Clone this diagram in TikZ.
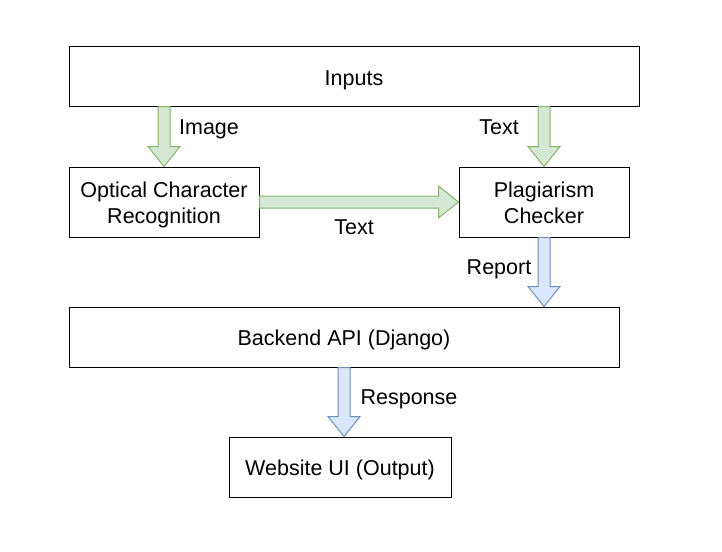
\documentclass[tikz,border=0pt]{standalone}
\usepackage{fontspec}
\setmainfont{Liberation Sans}
\usetikzlibrary{calc}
\definecolor{gfill}{HTML}{D5E8D4}
\definecolor{gline}{HTML}{82B366}
\definecolor{bfill}{HTML}{DAE8FC}
\definecolor{bline}{HTML}{6C8EBF}
\tikzset{
  box/.style={draw=black, line width=1pt, fill=white, inner sep=0pt, align=center, font=\fontsize{21.5}{26}\selectfont},
  lbl/.style={font=\fontsize{21.5}{26}\selectfont, inner sep=0pt, anchor=base},
  garrow/.style={draw=gline, fill=gfill, line width=1pt, line join=miter},
  barrow/.style={draw=bline, fill=bfill, line width=1pt, line join=miter}
}
\newcommand\boxtext[1]{\raisebox{-3.3pt}[\height][\depth]{\begin{tabular}{@{}c@{}}#1\end{tabular}}}
\newcommand\blockarrow[3]{%
  \draw[#1] let \p1=($(#3)-(#2)$), \n1={veclen(\x1,\y1)}, \n2={atan2(\y1,\x1)}, \n3={\n1-20} in
  ($(#2)+(\n2+90:6pt)$) -- ($(#2)+(\n2:\n3)+(\n2+90:6pt)$) -- ($(#2)+(\n2:\n3)+(\n2+90:16pt)$) -- (#3)
  -- ($(#2)+(\n2:\n3)+(\n2-90:16pt)$) -- ($(#2)+(\n2:\n3)+(\n2-90:6pt)$) -- ($(#2)+(\n2-90:6pt)$) -- cycle;}
\begin{document}
\begin{tikzpicture}[x=1pt,y=-1pt]
\useasboundingbox (0,0) rectangle (722,551);
\node[box, minimum width=570pt, minimum height=59pt] (inputs) at (354,76.5) {\boxtext{Inputs}};
\node[box, minimum width=190pt, minimum height=70pt] (ocr) at (164,202) {\boxtext{Optical Character\\Recognition}};
\node[box, minimum width=170pt, minimum height=70pt] (plag) at (544,202) {\boxtext{Plagiarism\\Checker}};
\node[box, minimum width=550pt, minimum height=60pt] (backend) at (344,337) {\boxtext{Backend API (Django)}};
\node[box, minimum width=222pt, minimum height=60pt] (web) at (340,467) {\boxtext{Website UI (Output)}};
\coordinate (a1) at (ocr.north |- inputs.south);
\coordinate (a2) at (plag.north |- inputs.south);
\coordinate (a3) at (plag.south |- backend.north);
\coordinate (a4) at (backend.south |- web.north);
\blockarrow{garrow}{a1}{ocr.north}
\blockarrow{garrow}{a2}{plag.north}
\blockarrow{garrow}{ocr.east}{plag.west}
\blockarrow{barrow}{plag.south}{a3}
\blockarrow{barrow}{backend.south}{a4}
\node[lbl] (limage) at (209,134) {Image};
\node[lbl] (ltext1) at (499,134) {Text};
\node[lbl] (ltext2) at (354,234) {Text};
\node[lbl] (lreport) at (499,274) {Report};
\node[lbl] (lresp) at (409,404) {Response};
\end{tikzpicture}
\end{document}
